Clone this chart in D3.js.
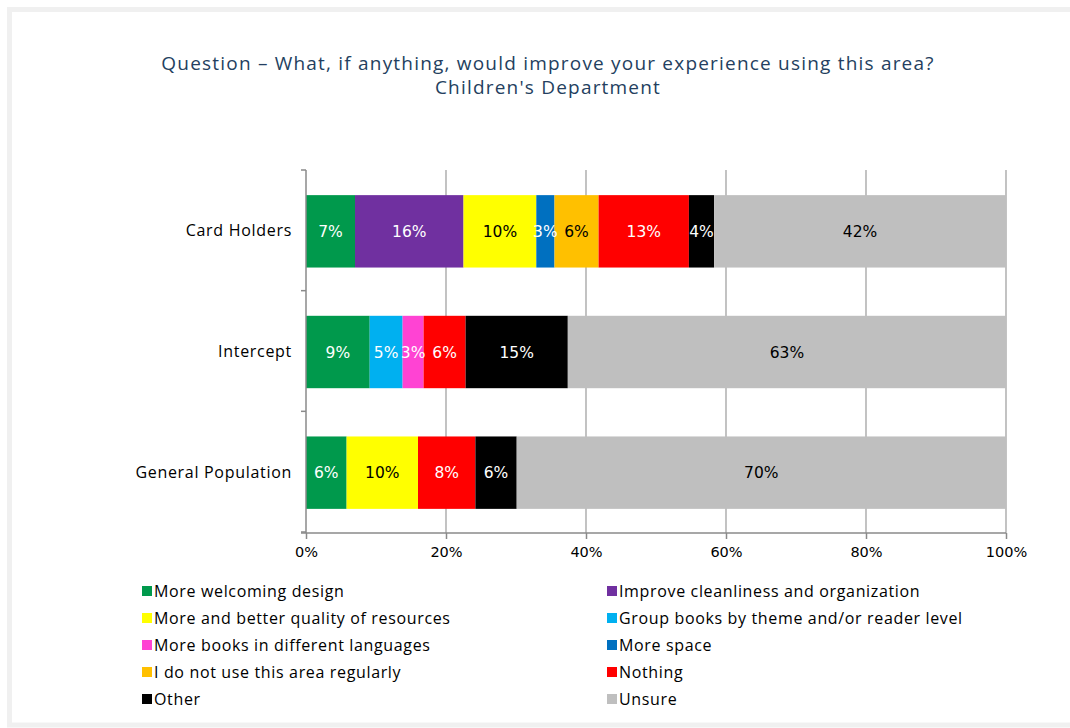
<!DOCTYPE html>
<html>
<head>
<meta charset="utf-8">
<script src="https://cdn.jsdelivr.net/npm/d3@7"></script>
<style>
  html, body { margin: 0; padding: 0; background: #ffffff; }
  svg { display: block; }
</style>
</head>
<body>
<svg id="chart" width="1070" height="728"></svg>
<script>
// Survey groups (rows of the chart)
const categories = ["Card Holders", "Intercept", "General Population"];

// Answer options, in stacking / legend order
const seriesNames = [
  "More welcoming design",
  "Improve cleanliness and organization",
  "More and better quality of resources",
  "Group books by theme and/or reader level",
  "More books in different languages",
  "More space",
  "I do not use this area regularly",
  "Nothing",
  "Other",
  "Unsure"
];

// Share of respondents per option, one value per group (Card Holders, Intercept, General Population)
const moreWelcoming   = [0.070, 0.091, 0.058];
const improveClean    = [0.155, 0,     0];
const betterResources = [0.104, 0,     0.102];
const groupBooks      = [0,     0.047, 0];
const otherLanguages  = [0,     0.030, 0];
const moreSpace       = [0.026, 0,     0];
const doNotUse        = [0.063, 0,     0];
const nothing         = [0.129, 0.060, 0.082];
const other           = [0.036, 0.146, 0.059];
const unsure          = [0.417, 0.626, 0.699];

const seriesValues = [moreWelcoming, improveClean, betterResources, groupBooks,
  otherLanguages, moreSpace, doNotUse, nothing, other, unsure];

const xTicks = [0, 0.2, 0.4, 0.6, 0.8, 1.0];

const colors = ["#00994C", "#7030A0", "#FFFF00", "#00B0F0", "#FF43D3",
  "#0070C0", "#FFC000", "#FF0000", "#000000", "#BFBFBF"];
const labelColors = ["#ffffff", "#ffffff", "#000000", "#ffffff", "#ffffff",
  "#ffffff", "#000000", "#ffffff", "#ffffff", "#000000"];

const svg = d3.select("#chart");

// chart frame
svg.append("rect")
  .attr("x", 9.5).attr("y", 9.5)
  .attr("width", 1075).attr("height", 715.5)
  .attr("fill", "none")
  .attr("stroke", "#f0f0f0")
  .attr("stroke-width", 5);

// title
const title = svg.append("text")
  .attr("text-anchor", "middle")
  .attr("fill", "#243F60")
  .style("font-family", "'Open Sans', sans-serif")
  .style("font-size", "19px")
  .style("letter-spacing", "1.2px");
title.append("tspan").attr("x", 548).attr("y", 70)
  .text("Question – What, if anything, would improve your experience using this area?");
title.append("tspan").attr("x", 548).attr("y", 94)
  .text("Children's Department");

// scales
const x = d3.scaleLinear().domain([0, 1]).range([306, 1006]);
const y = d3.scaleBand().domain(categories).range([170, 532])
  .paddingInner(0.4).paddingOuter(0.2);

// table for stacking
const rows = categories.map((c, i) => {
  const r = { category: c };
  seriesNames.forEach((s, j) => { r[s] = seriesValues[j][i]; });
  return r;
});
const stacked = d3.stack().keys(seriesNames)(rows);

// vertical gridlines
const grid = svg.append("g");
grid.selectAll("line").data(xTicks.slice(1)).join("line")
  .attr("x1", d => x(d)).attr("x2", d => x(d))
  .attr("y1", 170).attr("y2", 533)
  .attr("stroke", "#9a9a9a").attr("stroke-width", 1.2);

// bars
const layers = svg.append("g").selectAll("g").data(stacked).join("g")
  .attr("fill", (d, i) => colors[i]);
layers.selectAll("rect").data(d => d.filter(p => p.data[d.key] > 0)).join("rect")
  .attr("x", d => x(d[0]))
  .attr("y", d => y(d.data.category) + 1)
  .attr("width", d => x(d[1]) - x(d[0]))
  .attr("height", y.bandwidth());

// value labels
const fmt = d3.format(".0%");
stacked.forEach((layer, i) => {
  svg.append("g").selectAll("text")
    .data(layer.filter(p => p.data[layer.key] > 0)).join("text")
    .attr("x", d => (x(d[0]) + x(d[1])) / 2)
    .attr("y", d => y(d.data.category) + 1 + y.bandwidth() / 2)
    .attr("dy", "0.36em")
    .attr("text-anchor", "middle")
    .attr("fill", labelColors[i])
    .style("font-family", "'DejaVu Sans', sans-serif")
    .style("font-size", "15.5px")
    .text(d => fmt(d.data[layer.key]));
});

// x axis
const xAxis = svg.append("g")
  .attr("transform", "translate(0,533)")
  .call(d3.axisBottom(x).tickValues(xTicks).tickFormat(d3.format(".0%")).tickSize(6).tickPadding(8));
xAxis.select(".domain").attr("stroke", "#8a8a8a").attr("stroke-width", 1.5)
  .attr("d", "M301,0H1006");
xAxis.selectAll(".tick line").attr("stroke", "#8a8a8a").attr("stroke-width", 1.5);
xAxis.selectAll("text")
  .attr("fill", "#000")
  .style("font-family", "'DejaVu Sans', sans-serif")
  .style("font-size", "14.5px");

// y axis: category labels, ticks on band boundaries
const yAxis = svg.append("g")
  .attr("transform", "translate(306,1)")
  .call(d3.axisLeft(y).tickSize(0).tickPadding(14));
yAxis.select(".domain").remove();
yAxis.selectAll("text")
  .attr("fill", "#000")
  .style("font-family", "'Open Sans', sans-serif")
  .style("font-size", "16px")
  .style("letter-spacing", "0.7px");
const bounds = [y.range()[0]].concat(categories.map(c => y(c) - y.step() * y.paddingInner() / 2 + y.step()));
bounds[bounds.length - 1] = y.range()[1];
const yLine = svg.append("g");
yLine.append("line")
  .attr("x1", 306).attr("x2", 306).attr("y1", y.range()[0]).attr("y2", 533)
  .attr("stroke", "#8a8a8a").attr("stroke-width", 1.5);
yLine.selectAll(".bt").data(bounds).join("line")
  .attr("x1", 301).attr("x2", 306)
  .attr("y1", d => d).attr("y2", d => d)
  .attr("stroke", "#8a8a8a").attr("stroke-width", 1.5);

// legend, two columns filled row by row
const legend = svg.append("g");
const item = legend.selectAll("g").data(seriesNames).join("g")
  .attr("transform", (d, i) => `translate(${i % 2 === 0 ? 142 : 607},${591 + Math.floor(i / 2) * 27})`);
item.append("rect")
  .attr("x", 0).attr("y", -5).attr("width", 10).attr("height", 10)
  .attr("fill", (d, i) => colors[i]);
item.append("text")
  .attr("x", 12).attr("dy", "0.36em")
  .attr("fill", "#000")
  .style("font-family", "'Open Sans', sans-serif")
  .style("font-size", "16px")
  .style("letter-spacing", "0.65px")
  .text(d => d);
</script>
</body>
</html>
